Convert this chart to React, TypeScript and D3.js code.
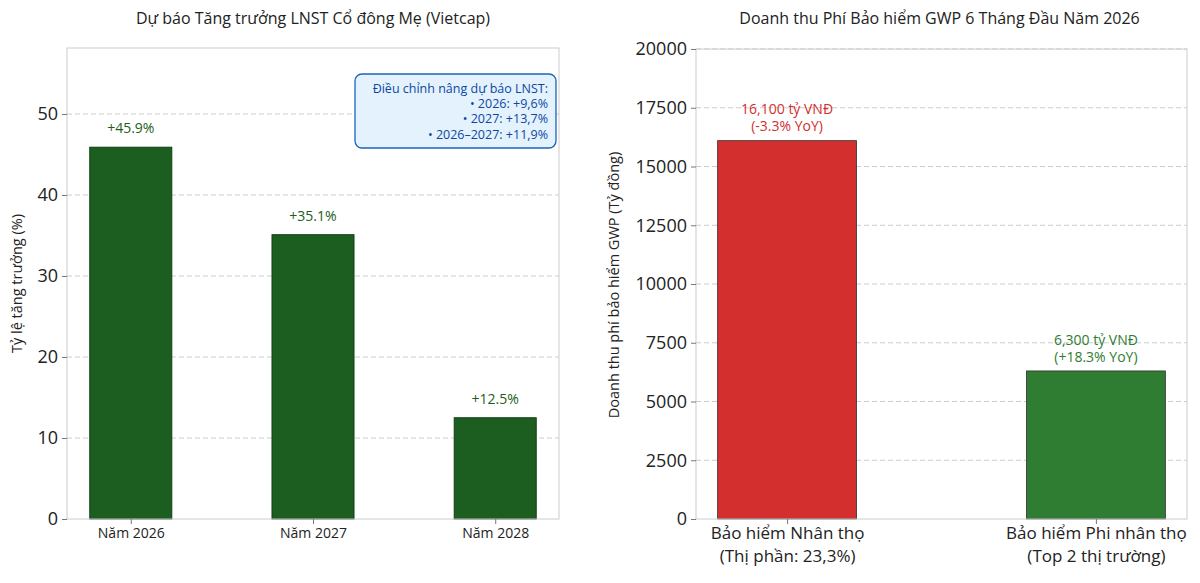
import React, { useEffect, useRef } from 'react';
import { select, scaleLinear, axisLeft, axisBottom } from 'd3';

// left chart: LNST growth forecast
const growthYears = ['Năm 2026', 'Năm 2027', 'Năm 2028'];
const growthValues = [45.9, 35.1, 12.5];
const growthTicks = [0, 10, 20, 30, 40, 50];
const noteLines = ['Điều chỉnh nâng dự báo LNST:', '• 2026: +9,6%', '• 2027: +13,7%', '• 2026–2027: +11,9%'];

// right chart: GWP revenue
const gwpCategories = [
    ['Bảo hiểm Nhân thọ', '(Thị phần: 23,3%)'],
    ['Bảo hiểm Phi nhân thọ', '(Top 2 thị trường)'],
];
const gwpValues = [16100, 6300];
const gwpLabels = [
    ['16,100 tỷ VNĐ', '(-3.3% YoY)'],
    ['6,300 tỷ VNĐ', '(+18.3% YoY)'],
];
const gwpTicks = [0, 2500, 5000, 7500, 10000, 12500, 15000, 17500, 20000];

const FONT = '"Open Sans", "Noto Sans", sans-serif';
const W = 1200;
const H = 583;

export default function App() {
    const svgRef = useRef<SVGSVGElement | null>(null);

    useEffect(() => {
        const svg = select(svgRef.current as any);
        svg.selectAll('*').remove();
        svg.style('font-family', FONT);

        const styleAxis = (g: any, size: number) => {
            g.select('.domain').remove();
            g.selectAll('.tick line').attr('stroke', '#777');
            g.selectAll('.tick text').attr('fill', '#222').style('font-size', `${size}px`).style('font-family', FONT);
        };

        // ---------- left chart ----------
        const L = { x0: 67, x1: 559, y0: 48, y1: 519 };
        const xL = scaleLinear().domain([-0.35, 2.35]).range([L.x0, L.x1]);
        const yL = scaleLinear().domain([0, 58.15]).range([L.y1, L.y0]);
        const left = svg.append('g');

        left.append('g')
            .selectAll('line')
            .data(growthTicks.slice(1))
            .join('line')
            .attr('x1', L.x0)
            .attr('x2', L.x1)
            .attr('y1', (d) => yL(d))
            .attr('y2', (d) => yL(d))
            .attr('stroke', '#ccc')
            .attr('stroke-dasharray', '5,3');

        const bwL = xL(0.45) - xL(0);
        left.append('g')
            .selectAll('rect')
            .data(growthValues)
            .join('rect')
            .attr('x', (d, i) => xL(i) - bwL / 2)
            .attr('width', bwL)
            .attr('y', (d) => yL(d))
            .attr('height', (d) => yL(0) - yL(d))
            .attr('fill', '#1b5e20')
            .attr('stroke', '#123d15')
            .attr('stroke-width', 1);

        left.append('g')
            .selectAll('text')
            .data(growthValues)
            .join('text')
            .attr('x', (d, i) => xL(i))
            .attr('y', (d) => yL(d + 1.7))
            .attr('text-anchor', 'middle')
            .attr('fill', '#1b5e20')
            .style('font-size', '14px')
            .text((d) => `+${d.toFixed(1)}%`);

        left.append('rect')
            .attr('x', L.x0)
            .attr('y', L.y0)
            .attr('width', L.x1 - L.x0)
            .attr('height', L.y1 - L.y0)
            .attr('fill', 'none')
            .attr('stroke', '#ccc');

        const axL = left.append('g')
            .attr('transform', `translate(${L.x0},0)`)
            .call(axisLeft(yL).tickValues(growthTicks).tickSize(5).tickPadding(4) as any);
        styleAxis(axL, 18);

        const axLB = left.append('g')
            .attr('transform', `translate(0,${L.y1})`)
            .call(axisBottom(xL).tickValues([0, 1, 2]).tickFormat((d: any) => growthYears[d]).tickSize(5).tickPadding(4) as any);
        styleAxis(axLB, 14);

        left.append('text')
            .attr('transform', `translate(22,${(L.y0 + L.y1) / 2}) rotate(-90)`)
            .attr('text-anchor', 'middle')
            .attr('fill', '#222')
            .style('font-size', '14.5px')
            .text('Tỷ lệ tăng trưởng (%)');

        left.append('text')
            .attr('x', (L.x0 + L.x1) / 2)
            .attr('y', 24)
            .attr('text-anchor', 'middle')
            .attr('fill', '#222')
            .style('font-size', '16px')
            .text('Dự báo Tăng trưởng LNST Cổ đông Mẹ (Vietcap)');

        // annotation box
        left.append('rect')
            .attr('x', 355)
            .attr('y', 74)
            .attr('width', 201)
            .attr('height', 74)
            .attr('rx', 7)
            .attr('fill', '#e3f2fd')
            .attr('stroke', '#1e63b8')
            .attr('stroke-width', 1.3);
        left.append('g')
            .selectAll('text')
            .data(noteLines)
            .join('text')
            .attr('x', 548)
            .attr('y', (d, i) => 93 + i * 15.2)
            .attr('text-anchor', 'end')
            .attr('fill', '#0d47a1')
            .style('font-size', '12.5px')
            .text((d) => d);

        // ---------- right chart ----------
        const R = { x0: 696, x1: 1187, y0: 49, y1: 519 };
        const xR = scaleLinear().domain([-0.295, 1.295]).range([R.x0, R.x1]);
        const yR = scaleLinear().domain([0, 20000]).range([R.y1, R.y0]);
        const right = svg.append('g');

        right.append('g')
            .selectAll('line')
            .data(gwpTicks.slice(1))
            .join('line')
            .attr('x1', R.x0)
            .attr('x2', R.x1)
            .attr('y1', (d) => yR(d))
            .attr('y2', (d) => yR(d))
            .attr('stroke', '#ccc')
            .attr('stroke-dasharray', '5,3');

        const bwR = xR(0.45) - xR(0);
        const gwpColors = ['#d32f2f', '#2e7d32'];
        right.append('g')
            .selectAll('rect')
            .data(gwpValues)
            .join('rect')
            .attr('x', (d, i) => xR(i) - bwR / 2)
            .attr('width', bwR)
            .attr('y', (d) => yR(d))
            .attr('height', (d) => yR(0) - yR(d))
            .attr('fill', (d, i) => gwpColors[i])
            .attr('stroke', '#333')
            .attr('stroke-width', 0.8);

        gwpValues.forEach((v, i) => {
            right.append('text')
                .attr('x', xR(i))
                .attr('y', yR(v + 400))
                .attr('text-anchor', 'middle')
                .attr('fill', gwpColors[i])
                .style('font-size', '14px')
                .selectAll('tspan')
                .data(gwpLabels[i])
                .join('tspan')
                .attr('x', xR(i))
                .attr('dy', (d, j) => (j === 0 ? '-1.2em' : '1.2em'))
                .text((d) => d);
        });

        right.append('rect')
            .attr('x', R.x0)
            .attr('y', R.y0)
            .attr('width', R.x1 - R.x0)
            .attr('height', R.y1 - R.y0)
            .attr('fill', 'none')
            .attr('stroke', '#ccc');

        const axR = right.append('g')
            .attr('transform', `translate(${R.x0},0)`)
            .call(axisLeft(yR).tickValues(gwpTicks).tickFormat((d: any) => String(d)).tickSize(5).tickPadding(4) as any);
        styleAxis(axR, 18);

        const axRB = right.append('g')
            .attr('transform', `translate(0,${R.y1})`)
            .call(axisBottom(xR).tickValues([0, 1]).tickFormat(() => '').tickSize(5) as any);
        styleAxis(axRB, 17);
        axRB.selectAll('.tick').each(function (d: any) {
            select(this)
                .select('text')
                .selectAll('tspan')
                .data(gwpCategories[d])
                .join('tspan')
                .attr('x', 0)
                .attr('dy', (t, j) => (j === 0 ? '0.35em' : '1.35em'))
                .text((t) => t);
        });
        axRB.selectAll('.tick text').attr('y', 14).attr('dy', null);

        right.append('text')
            .attr('transform', `translate(619,${(R.y0 + R.y1) / 2 + 1}) rotate(-90)`)
            .attr('text-anchor', 'middle')
            .attr('fill', '#222')
            .style('font-size', '14.5px')
            .text('Doanh thu phí bảo hiểm GWP (Tỷ đồng)');

        right.append('text')
            .attr('x', (R.x0 + R.x1) / 2 - 2)
            .attr('y', 24)
            .attr('text-anchor', 'middle')
            .attr('fill', '#222')
            .style('font-size', '16px')
            .text('Doanh thu Phí Bảo hiểm GWP 6 Tháng Đầu Năm 2026');
    }, []);

    return (
        <svg
            ref={svgRef}
            width={W}
            height={H}
            style={{ position: 'absolute', left: 0, top: 0, background: '#fff' }}
        />
    );
}
